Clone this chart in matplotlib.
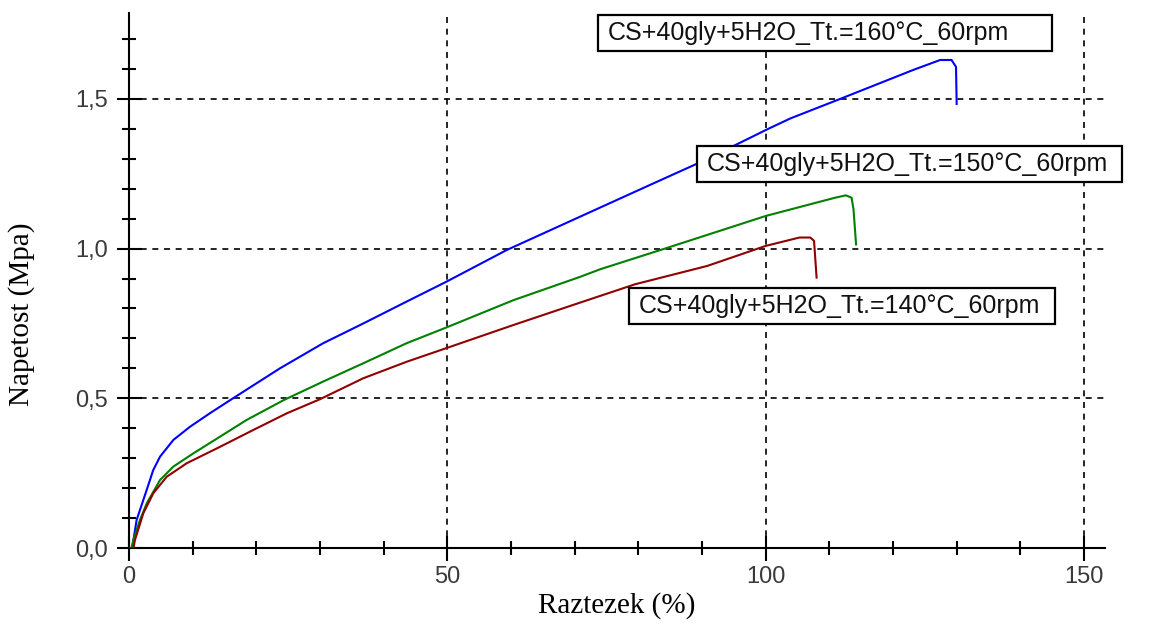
import matplotlib
matplotlib.use("Agg")
import matplotlib.pyplot as plt
from matplotlib.patches import Rectangle
from matplotlib.ticker import MultipleLocator

# tensile curves: strain (%) vs stress (MPa)
strain_160 = [0, 0.5, 1.2, 2.78, 3.8, 4.87, 6.97, 9.58, 12.7, 15.9, 23.7, 30.5, 36.8, 43.6,
              49.9, 59.3, 71.4, 82.9, 90.2, 100.3, 103.9, 111.7, 123.2, 127.4, 129.2, 129.9, 130.0]
stress_160 = [0, 0.0, 0.094, 0.194, 0.26, 0.305, 0.361, 0.405, 0.45, 0.494, 0.600, 0.684, 0.750, 0.823,
              0.89, 0.995, 1.112, 1.223, 1.293, 1.399, 1.435, 1.50, 1.597, 1.63, 1.63, 1.607, 1.483]

strain_150 = [0, 0.4, 0.68, 1.73, 2.78, 4.87, 6.97, 10.1, 14.3, 18.5, 24.3, 30.5, 36.8, 43.6,
              49.9, 60.4, 70.9, 74.0, 84.6, 100, 110.9, 112.6, 113.5, 113.8, 114.2]
stress_150 = [0, 0.0, 0.027, 0.094, 0.149, 0.227, 0.272, 0.316, 0.372, 0.428, 0.494, 0.556, 0.617, 0.684,
              0.737, 0.828, 0.906, 0.931, 1.003, 1.109, 1.170, 1.178, 1.17, 1.131, 1.014]

strain_140 = [0, 0.7, 0.94, 2.25, 3.82, 5.92, 9.06, 14.3, 19.5, 24.8, 30.0, 36.8, 43.6,
              49.9, 60.4, 70.9, 79.5, 90.8, 100, 105.3, 107, 107.6, 108]
stress_140 = [0, 0.0, 0.027, 0.116, 0.183, 0.238, 0.283, 0.338, 0.394, 0.45, 0.497, 0.567, 0.622,
              0.668, 0.745, 0.82, 0.881, 0.942, 1.009, 1.037, 1.037, 1.026, 0.903]

labels = ["CS+40gly+5H2O_Tt.=160°C_60rpm",
          "CS+40gly+5H2O_Tt.=150°C_60rpm",
          "CS+40gly+5H2O_Tt.=140°C_60rpm"]
colors = ["#0000ff", "#008000", "#900000"]

xticks = [0, 50, 100, 150]
xticklabels = ["0", "50", "100", "150"]
yticks = [0.0, 0.5, 1.0, 1.5]
yticklabels = ["0,0", "0,5", "1,0", "1,5"]

# label boxes: left x, centre y, width, height (data units)
boxes = [(73.7, 1.72, 71.3, 0.12),
         (89.2, 1.283, 66.8, 0.12),
         (78.6, 0.808, 66.8, 0.12)]

fig = plt.figure(figsize=(11.57, 6.24), dpi=100)
ax = fig.add_axes([129/1157, 1 - 548/624, (1105 - 129)/1157, (548 - 13)/624])

ax.plot(strain_160, stress_160, color=colors[0], lw=1.5, zorder=3)
ax.plot(strain_150, stress_150, color=colors[1], lw=1.5, zorder=3)
ax.plot(strain_140, stress_140, color=colors[2], lw=1.5, zorder=3)

ax.set_xlim(0, 153.3)
ax.set_ylim(0, 1.787)

ax.spines["top"].set_visible(False)
ax.spines["right"].set_visible(False)
for s in ("left", "bottom"):
    ax.spines[s].set_linewidth(1.5)

ax.set_xticks(xticks)
ax.set_xticklabels(xticklabels)
ax.set_yticks(yticks)
ax.set_yticklabels(yticklabels)
ax.xaxis.set_minor_locator(MultipleLocator(10))
ax.yaxis.set_minor_locator(MultipleLocator(0.1))
ax.tick_params(which="major", direction="inout", length=18, width=1.5, pad=6,
               labelsize=17, labelcolor="#3a3a3a")
ax.tick_params(axis="x", which="major", pad=4)
ax.tick_params(which="minor", direction="inout", length=10, width=1.5)
for t in ax.get_xticklabels() + ax.get_yticklabels():
    t.set_fontfamily("Liberation Sans")

ax.grid(True, which="major", color="black", lw=1.2, linestyle=(0, (3.6, 3.4)), zorder=1)
ax.set_axisbelow(True)

for (x0, yc, w, h), lab in zip(boxes, labels):
    ax.add_patch(Rectangle((x0, yc - h/2), w, h, facecolor="white", edgecolor="black",
                           lw=1.6, zorder=5, clip_on=False))
    ax.text(x0 + 1.5, yc, lab, fontsize=18, family="Liberation Sans", color="#111111",
            va="center", ha="left", zorder=6, clip_on=False)

fig.text(617/1157, 1 - 606/624, "Raztezek (%)", fontsize=21, family="Liberation Serif",
         ha="center", va="center")
fig.text(22/1157, 1 - 314/624, "Napetost (Mpa)", fontsize=21, family="Liberation Serif",
         ha="center", va="center", rotation=90)

fig.savefig("out.png", dpi=100)
